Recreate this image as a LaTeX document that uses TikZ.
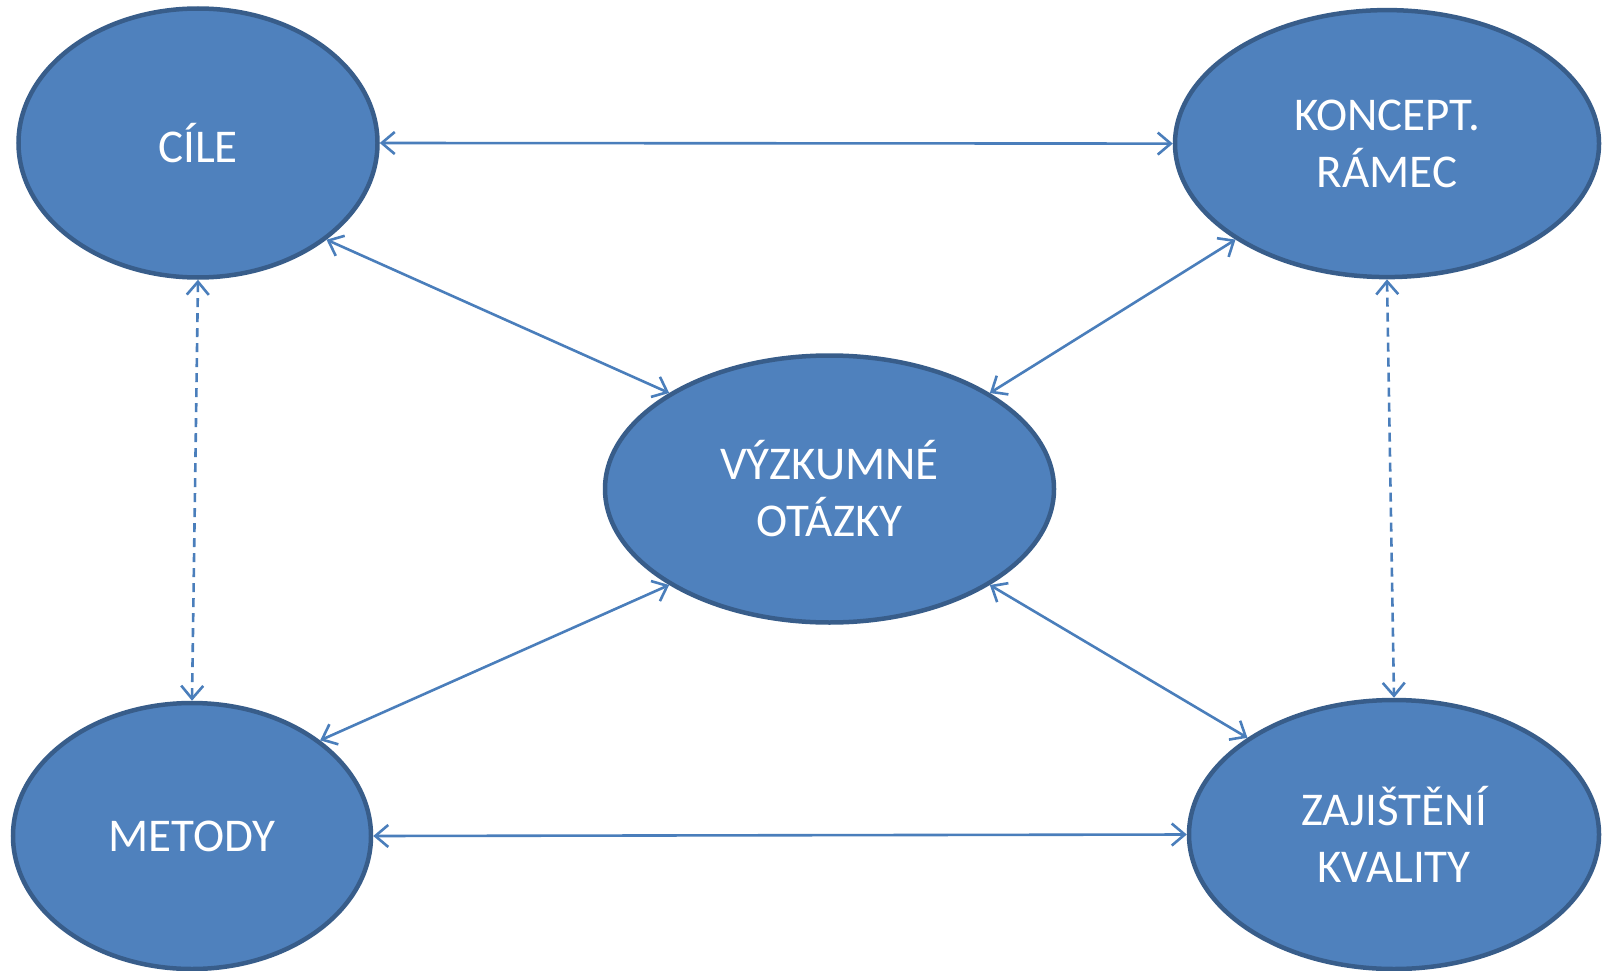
\documentclass[tikz,border=0pt]{standalone}
\usepackage{fontspec}
\setmainfont{Carlito}
\usetikzlibrary{arrows.meta,shapes.geometric}
\definecolor{ellfill}{HTML}{4F81BD}
\definecolor{elldraw}{HTML}{385D8A}
\definecolor{conn}{HTML}{4A7EBB}
\tikzset{
  bubble/.style={ellipse, fill=ellfill, draw=elldraw, line width=4.5pt, text=white,
    align=center, inner sep=0pt, font=\fontsize{47}{57}\selectfont},
  link/.style={draw=conn, line width=2.6pt, {Straight Barb[length=13pt,width=22pt,line width=2.6pt]}-{Straight Barb[length=13pt,width=22pt,line width=2.6pt]}},
  dlink/.style={link, dash pattern=on 9pt off 6pt}
}
\begin{document}
\begin{tikzpicture}[x=1pt,y=-1pt]
\useasboundingbox (0,0) rectangle (1603,971);
\node[bubble, minimum width=359pt, minimum height=269pt] (cile) at (198,143) {CÍLE};
\node[bubble, minimum width=424pt, minimum height=267pt] (koncept) at (1387,143.6) {KONCEPT.\\RÁMEC};
\node[bubble, minimum width=449pt, minimum height=267pt] (vyzk) at (829.5,489) {VÝZKUMNÉ\\OTÁZKY};
\node[bubble, minimum width=358pt, minimum height=266pt] (metody) at (192,836) {METODY};
\node[bubble, minimum width=410pt, minimum height=269pt] (zaj) at (1394,834.5) {ZAJIŠTĚNÍ\\KVALITY};
\draw[link] (cile.east) -- (koncept.west);
\draw[link] (cile.south east) -- (vyzk.north west);
\draw[link] (vyzk.north east) -- (koncept.south west);
\draw[link] (vyzk.south west) -- (metody.north east);
\draw[link] (vyzk.south east) -- (zaj.north west);
\draw[link] (metody.east) -- (zaj.west);
\draw[dlink] (cile.south) -- (metody.north);
\draw[dlink] (koncept.south) -- (zaj.north);
\end{tikzpicture}
\end{document}
